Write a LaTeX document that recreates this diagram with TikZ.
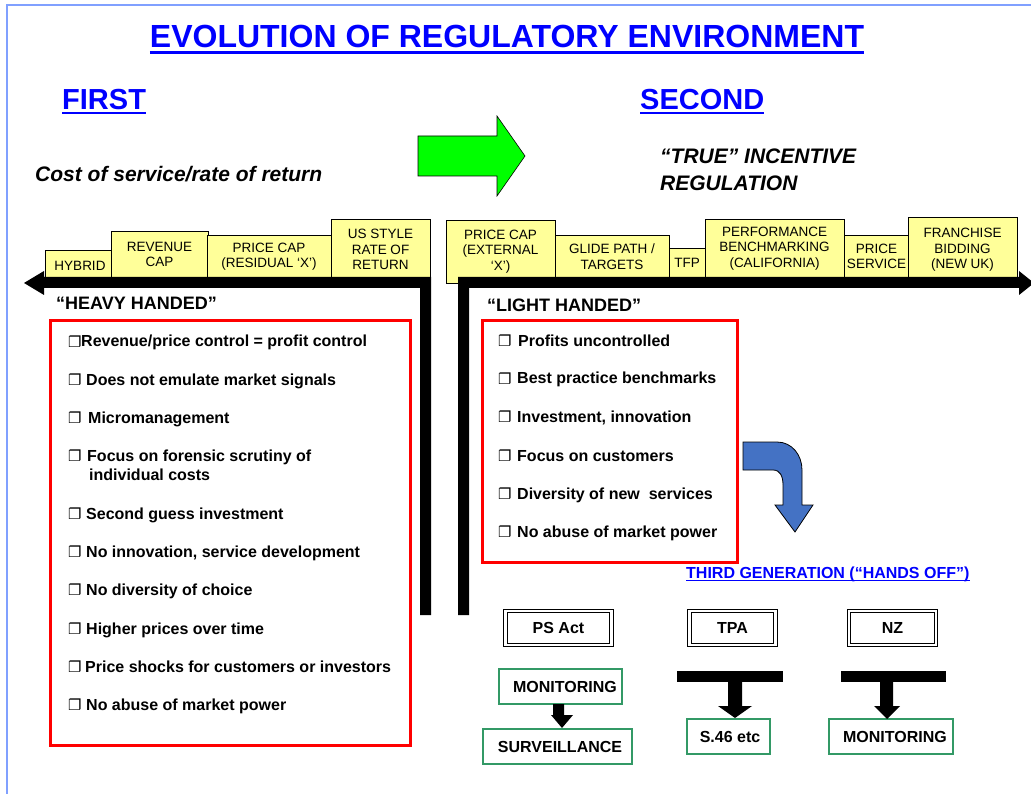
\documentclass[tikz,border=0pt]{standalone}
\usepackage{fontspec}
\setmainfont{Liberation Sans}
\newfontfamily\symfont{DejaVu Sans}
\definecolor{yel}{RGB}{255,255,153}
\definecolor{grn}{RGB}{51,153,102}
\definecolor{bordblue}{RGB}{128,160,255}
\definecolor{arrblue}{RGB}{68,114,196}
\definecolor{greenarrow}{RGB}{0,255,0}
\definecolor{titleblue}{RGB}{0,0,255}
\newcommand\bx{\makebox[13pt][l]{\raisebox{-0.5pt}{\symfont\fontsize{15}{15}\selectfont ❐}}}
\tikzset{
  ybox/.style={draw=black, fill=yel, line width=0.8pt, inner sep=0, align=center,
    font=\fontsize{13.5}{15.5}\selectfont},
  redbox/.style={draw=red, line width=3pt, inner sep=0},
  bul/.style={anchor=base west, inner sep=0, font=\bfseries\fontsize{16}{19}\selectfont},
  dbox/.style={draw=black, double=white, double distance=2.2pt, line width=1pt, inner sep=0,
    minimum height=34pt, font=\bfseries\fontsize{16}{19}\selectfont},
  gbox/.style={draw=grn, line width=2.5pt, inner sep=0, minimum height=35pt,
    font=\bfseries\fontsize{16}{19}\selectfont},
  hdr/.style={anchor=base west, inner sep=0, text=titleblue, font=\bfseries\fontsize{29}{32}\selectfont},
  sub/.style={anchor=base west, inner sep=0, font=\bfseries\itshape\fontsize{21}{24}\selectfont},
  hand/.style={anchor=base west, inner sep=0, font=\bfseries\fontsize{18}{21}\selectfont},
}
\begin{document}
\begin{tikzpicture}[x=1pt,y=-1pt]
\useasboundingbox (0,0) rectangle (1031,794);
\fill[white] (0,0) rectangle (1031,794);
% page border
\draw[bordblue, line width=2pt] (7,794) -- (7,5) -- (1031,5);

% title
\node[anchor=base, inner sep=0, text=titleblue, font=\bfseries\fontsize{32}{36}\selectfont] (title) at (507,48) {EVOLUTION OF REGULATORY ENVIRONMENT};
\draw[titleblue, line width=3pt] ([yshift=-4.5pt]title.base west) -- ([yshift=-4.5pt]title.base east);

\node[hdr] (first) at (62,110) {FIRST};
\draw[titleblue, line width=2.5pt] ([yshift=-3pt]first.base west) -- ([yshift=-3pt]first.base east);
\node[hdr] (second) at (640,110) {SECOND};
\draw[titleblue, line width=2.5pt] ([yshift=-3pt]second.base west) -- ([yshift=-3pt]second.base east);

\node[sub] (cost) at (35,182) {Cost of service/rate of return};
\node[sub] (true) at (660,164) {“TRUE” INCENTIVE};
\node[sub] (regul) at (660,191) {REGULATION};

% green arrow
\draw[fill=greenarrow, draw=black, line width=0.6pt] (418,136) -- (497,136) -- (497,116) -- (525,156) -- (497,196) -- (497,176) -- (418,176) -- cycle;

% yellow boxes left
\node[ybox, minimum width=70pt, minimum height=31pt] (hyb) at (80,265.5) {HYBRID};
\node[ybox, minimum width=97pt, minimum height=47pt] (rev) at (159.5,254.5) {REVENUE\\CAP};
\node[ybox, minimum width=124pt, minimum height=43pt] (pcr) at (269,256.5) {PRICE CAP\\(RESIDUAL ‘X’)};
\node[ybox, minimum width=99pt, minimum height=61pt] (us) at (380.5,249.5) {US STYLE\\RATE OF\\RETURN};
% yellow boxes right
\node[ybox, minimum width=109pt, minimum height=63pt] (pce) at (500.5,251.5) {PRICE CAP\\(EXTERNAL\\‘X’)};
\node[ybox, minimum width=114pt, minimum height=43pt] (glide) at (612,256.5) {GLIDE PATH /\\TARGETS};
\node[ybox, minimum width=36pt, minimum height=30pt] (tfp) at (687,263) {TFP};
\node[ybox, minimum width=139pt, minimum height=59pt] (perf) at (774.5,248.5) {PERFORMANCE\\BENCHMARKING\\(CALIFORNIA)};
\node[ybox, minimum width=65pt, minimum height=43pt] (psrv) at (876.5,256.5) {PRICE\\SERVICE};
\node[ybox, minimum width=109pt, minimum height=66pt] (fran) at (962.5,250) {FRANCHISE\\BIDDING\\(NEW UK)};

% black timeline bars
\fill[black] (24,283) -- (44,271) -- (44,277) -- (431,277) -- (431,615) -- (420,615) -- (420,288) -- (44,288) -- (44,295) -- cycle;
\fill[black] (458,615) -- (458,277) -- (1019,277) -- (1019,271) -- (1034,283) -- (1019,295) -- (1019,288) -- (469,288) -- (469,615) -- cycle;

\node[hand] (heavy) at (56,310) {“HEAVY HANDED”};
\node[hand] (light) at (487,312) {“LIGHT HANDED”};

% red boxes
\node[redbox, minimum width=360pt, minimum height=424pt] (lbox) at (230,533) {};
\node[redbox, minimum width=255pt, minimum height=241pt] (rbox) at (609.5,441.5) {};

% left bullets
\node[bul] (l1) at (68,347) {\bx Revenue/price control = profit control};
\node[bul] (l2) at (68,385) {\bx\hspace{5pt}Does not emulate market signals};
\node[bul] (l3) at (68,423) {\bx\hspace{7pt}Micromanagement};
\node[bul] (l4) at (68,461) {\bx\hspace{6pt}Focus on forensic scrutiny of};
\node[bul] (l4b) at (89,480) {individual costs};
\node[bul] (l5) at (68,519) {\bx\hspace{5pt}Second guess investment};
\node[bul] (l6) at (68,557) {\bx\hspace{5pt}No innovation, service development};
\node[bul] (l7) at (68,595) {\bx\hspace{5pt}No diversity of choice};
\node[bul] (l8) at (68,634) {\bx\hspace{5pt}Higher prices over time};
\node[bul] (l9) at (68,672) {\bx\hspace{4pt}Price shocks for customers or investors};
\node[bul] (l10) at (68,710) {\bx\hspace{5pt}No abuse of market power};

% right bullets
\node[bul] (r1) at (498,346) {\bx\hspace{7pt}Profits uncontrolled};
\node[bul] (r2) at (498,384) {\bx\hspace{6pt}Best practice benchmarks};
\node[bul] (r3) at (498,422) {\bx\hspace{6pt}Investment, innovation};
\node[bul] (r4) at (498,461) {\bx\hspace{6pt}Focus on customers};
\node[bul] (r5) at (498,499) {\bx\hspace{6pt}Diversity of new\ \ services};
\node[bul] (r6) at (498,537) {\bx\hspace{6pt}No abuse of market power};

% blue curved arrow
\draw[fill=arrblue, draw=black, line width=0.8pt] (743,442) -- (777,442) .. controls (792,442) and (802,455) .. (802,470) -- (802,505) -- (813,505) -- (795,532) -- (775,505) -- (783,505) -- (783,485) .. controls (783,476) and (780,470) .. (773,470) -- (743,470) -- cycle;

% third generation
\node[anchor=base west, inner sep=0, text=titleblue, font=\bfseries\fontsize{16}{18}\selectfont] (third) at (686,578) {THIRD GENERATION (“HANDS OFF”)};
\draw[titleblue, line width=1.5pt] ([yshift=-2.5pt]third.base west) -- ([yshift=-2.5pt]third.base east);

% double boxes
\node[dbox, minimum width=106pt] (psact) at (558.5,628) {PS Act};
\node[dbox, minimum width=86pt] (tpa) at (732.5,628) {TPA};
\node[dbox, minimum width=87pt] (nz) at (892.5,628) {NZ};

% green boxes
\node[gbox, minimum width=123pt] (mon1) at (560.5,686.5) {\hspace{9pt}MONITORING};
\node[gbox, minimum width=149pt] (surv) at (557.5,746.5) {\hspace{5pt}SURVEILLANCE};
\node[gbox, minimum width=83pt] (s46) at (728.5,736.5) {\hspace{3pt}S.46 etc};
\node[gbox, minimum width=124pt] (mon2) at (891,736.5) {\hspace{8pt}MONITORING};

% black block arrows
\fill[black] (553,704) -- (564,704) -- (564,715) -- (573,715) -- (562,728) -- (551,715) -- (553,715) -- cycle;
\fill[black] (677,671) rectangle (783,682);
\fill[black] (728,681) -- (742,681) -- (742,706) -- (752,706) -- (735,718) -- (718,706) -- (728,706) -- cycle;
\fill[black] (841,671) rectangle (946,682);
\fill[black] (880,681) -- (893,681) -- (893,706) -- (900,706) -- (887,719) -- (874,706) -- (880,706) -- cycle;
\end{tikzpicture}
\end{document}
